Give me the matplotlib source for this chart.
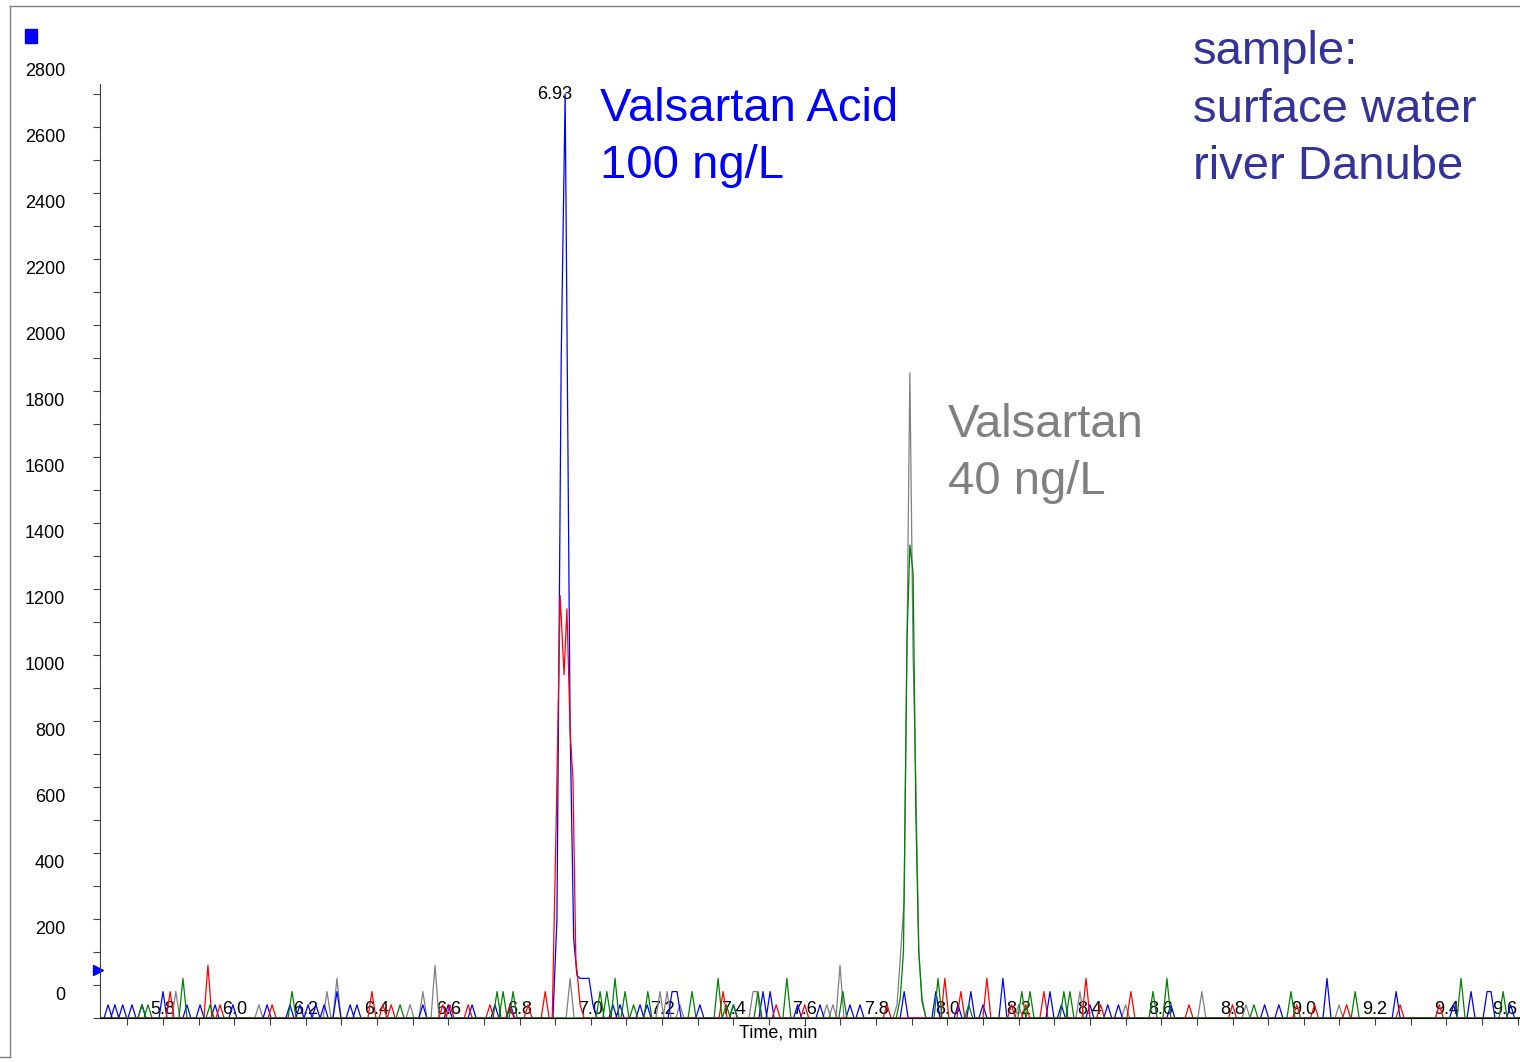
import matplotlib.pyplot as plt
from matplotlib.transforms import ScaledTranslation
from matplotlib.lines import Line2D
from matplotlib.patches import Rectangle

plt.rcParams['font.family'] = ['Liberation Sans', 'DejaVu Sans']

W, H = 1520, 1062

# main peaks (time in min, intensity in counts)
blue_peak_t = [6.905, 6.917, 6.928, 6.942, 6.952, 6.961, 6.970, 6.984, 6.995, 7.006]
blue_peak_y = [300, 2000, 2800, 880, 240, 130, 120, 120, 120, 40]
red_peak_t = [6.903, 6.914, 6.925, 6.933, 6.942, 6.950, 6.958, 6.970]
red_peak_y = [600, 1280, 1040, 1240, 870, 720, 180, 40]
gray_peak_t = [7.859, 7.868, 7.879, 7.887, 7.895, 7.904, 7.912, 7.920, 7.929]
gray_peak_y = [40, 180, 360, 1150, 1955, 1100, 700, 200, 60]
green_peak_t = [7.868, 7.877, 7.887, 7.895, 7.904, 7.912, 7.920, 7.929]
green_peak_y = [60, 200, 1150, 1433, 1350, 600, 200, 50]

# baseline noise spikes
blue_noise_t = [5.646, 5.665, 5.687, 5.713, 5.741, 5.800, 5.867, 5.904, 5.946, 5.996,
                6.092, 6.156, 6.184, 6.207, 6.229, 6.252, 6.288, 6.325, 6.344, 6.529,
                6.600, 6.667, 6.731, 6.775, 7.062, 7.082, 7.138, 7.158, 7.228, 7.242,
                7.306, 7.400, 7.483, 7.503, 7.580, 7.643, 7.727, 7.755, 7.879, 7.968,
                8.030, 8.066, 8.100, 8.156, 8.288, 8.320, 8.400, 8.450, 8.480, 8.627,
                8.890, 8.930, 9.065, 9.259, 9.420, 9.469, 9.514, 9.525, 9.580]
blue_noise_y = [40, 40, 40, 40, 40, 80, 40, 40, 40, 40,
                40, 40, 40, 40, 40, 40, 80, 40, 40, 40,
                40, 40, 40, 40, 40, 40, 40, 40, 80, 80,
                40, 40, 80, 80, 40, 40, 40, 40, 80, 80,
                40, 80, 40, 120, 80, 40, 40, 40, 40, 40,
                40, 40, 120, 80, 40, 80, 80, 80, 40]
red_noise_t = [5.820, 5.926, 5.960, 6.106, 6.386, 6.417, 6.440, 6.585, 6.605, 6.656,
               6.717, 6.773, 6.824, 6.872, 7.371, 7.520, 7.600, 7.831, 7.993, 8.038,
               8.111, 8.180, 8.220, 8.271, 8.389, 8.430, 8.515, 8.678, 8.800, 8.980,
               9.030, 9.120, 9.270, 9.380]
red_noise_y = [80, 160, 40, 40, 80, 40, 40, 40, 40, 40,
               40, 40, 40, 80, 80, 40, 40, 40, 120, 80,
               120, 40, 40, 80, 120, 40, 80, 40, 40, 40,
               40, 40, 40, 40]
green_noise_t = [5.741, 5.758, 5.856, 5.932, 6.162, 6.465, 6.737, 6.754, 6.782, 7.026,
                 7.045, 7.068, 7.096, 7.120, 7.160, 7.284, 7.357, 7.380, 7.400, 7.469,
                 7.550, 7.707, 7.974, 8.060, 8.209, 8.232, 8.327, 8.344, 8.577, 8.616,
                 8.860, 8.964, 9.144, 9.441, 9.559]
green_noise_y = [40, 40, 120, 40, 80, 40, 80, 80, 80, 80,
                 80, 120, 80, 40, 80, 80, 120, 40, 40, 80,
                 120, 80, 120, 40, 80, 80, 80, 80, 80, 120,
                 40, 80, 80, 120, 80]
gray_noise_t = [5.836, 6.069, 6.260, 6.288, 6.493, 6.529, 6.563, 6.942, 7.194, 7.214,
                7.250, 7.455, 7.466, 7.662, 7.679, 7.699, 8.200, 8.372, 8.500, 8.714,
                8.838, 9.099]
gray_noise_y = [80, 40, 80, 120, 40, 80, 160, 120, 80, 80,
                40, 80, 80, 40, 40, 160, 40, 80, 40, 80,
                40, 40]

x_ticks = [5.8, 6.0, 6.2, 6.4, 6.6, 6.8, 7.0, 7.2, 7.4, 7.6, 7.8,
           8.0, 8.2, 8.4, 8.6, 8.8, 9.0, 9.2, 9.4, 9.6]
y_ticks = list(range(0, 2801, 200))
peak_rt = "6.93"


def build_trace(t_lists, y_lists, step=0.0112):
    pts = []
    for tl, yl in zip(t_lists, y_lists):
        pts += list(zip(tl, yl))
    pts.sort()
    ts = [p[0] for p in pts]
    out = []
    for t, y in pts:
        if not any(0 < t - o < 1.5 * step for o in ts):
            out.append((t - step, 0))
        out.append((t, y))
        if not any(0 < o - t < 1.5 * step for o in ts):
            out.append((t + step, 0))
    out = [(5.60, 0)] + out + [(9.62, 0)]
    return [p[0] for p in out], [p[1] for p in out]


fig = plt.figure(figsize=(W / 100, H / 100), dpi=100)
ax = fig.add_axes([100 / W, 1 - 1018 / H, 1420 / W, (1018 - 84) / H])

traces = [
    ([gray_peak_t, gray_noise_t], [gray_peak_y, gray_noise_y], '#808080'),
    ([blue_peak_t, blue_noise_t], [blue_peak_y, blue_noise_y], '#0000ff'),
    ([red_peak_t, red_noise_t], [red_peak_y, red_noise_y], '#ff0000'),
    ([green_peak_t, green_noise_t], [green_peak_y, green_noise_y], '#008000'),
]
for tl, yl, c in traces:
    xs, ys = build_trace(tl, yl)
    ax.plot(xs, ys, color=c, lw=0.9)

ax.set_xlim(5.6233, 9.6064)
ax.set_ylim(0, 2830)

for s in ['top', 'right']:
    ax.spines[s].set_visible(False)
ax.spines['left'].set_color('#404040')
ax.spines['bottom'].set_color('black')

ax.set_xticks(x_ticks)
ax.set_xticklabels([f"{v:.1f}" for v in x_ticks])
ax.set_xticks([v + 0.1 for v in x_ticks[:-1]] + [5.7], minor=True)
ax.set_yticks(y_ticks)
ax.set_yticklabels([str(v) for v in y_ticks])
ax.set_yticks(list(range(100, 2801, 200)), minor=True)
ax.tick_params(axis='both', which='both', length=5, width=0.8, color='#404040',
               direction='out')
ax.tick_params(axis='x', labelsize=13, pad=0)
ax.tick_params(axis='y', labelsize=13, pad=20)

# labels sit above their ticks, as in the original export
for lab in ax.get_xticklabels():
    lab.set_transform(lab.get_transform() + ScaledTranslation(0, 0.24, fig.dpi_scale_trans))
for lab in ax.get_yticklabels():
    lab.set_transform(lab.get_transform() + ScaledTranslation(0, 0.24, fig.dpi_scale_trans))
ax.get_xticklabels()[-1].set_horizontalalignment('right')

ax.text(6.947, 2797, peak_rt, ha='right', va='center', fontsize=13, color='black')

# blue marker on y axis
ax.plot([-0.0012], [145], marker='>', color='#0000ff', markersize=7, clip_on=False,
        transform=ax.get_yaxis_transform())


def ftext(x, y, s, **kw):
    fig.text(x / W, 1 - y / H, s, va='baseline', **kw)


ftext(600, 121, "Valsartan Acid", fontsize=34, color='#0000ff')
ftext(600, 178, "100 ng/L", fontsize=34, color='#0000ff')
ftext(948, 437, "Valsartan", fontsize=34, color='#808080')
ftext(948, 494, "40 ng/L", fontsize=34, color='#808080')
ftext(1193, 64, "sample:", fontsize=34, color='#333399')
ftext(1193, 122, "surface water", fontsize=34, color='#333399')
ftext(1193, 179, "river Danube", fontsize=34, color='#333399')

fig.text(778 / W, 1 - 1033 / H, "Time, min", ha='center', va='center', fontsize=13)

# slide frame
fig.add_artist(Line2D([10 / W, 1], [1 - 6 / H, 1 - 6 / H], color='#808080', lw=1))
fig.add_artist(Line2D([10 / W, 10 / W], [1 - 6 / H, 1 - 1057 / H], color='#808080', lw=1))
fig.add_artist(Line2D([0, 10 / W], [1 - 1057 / H, 1 - 1057 / H], color='#808080', lw=1))
fig.add_artist(Rectangle((25 / W, 1 - 43 / H), 12 / W, 14 / H, color='#0000ff'))

fig.savefig('out.png', dpi=100)
